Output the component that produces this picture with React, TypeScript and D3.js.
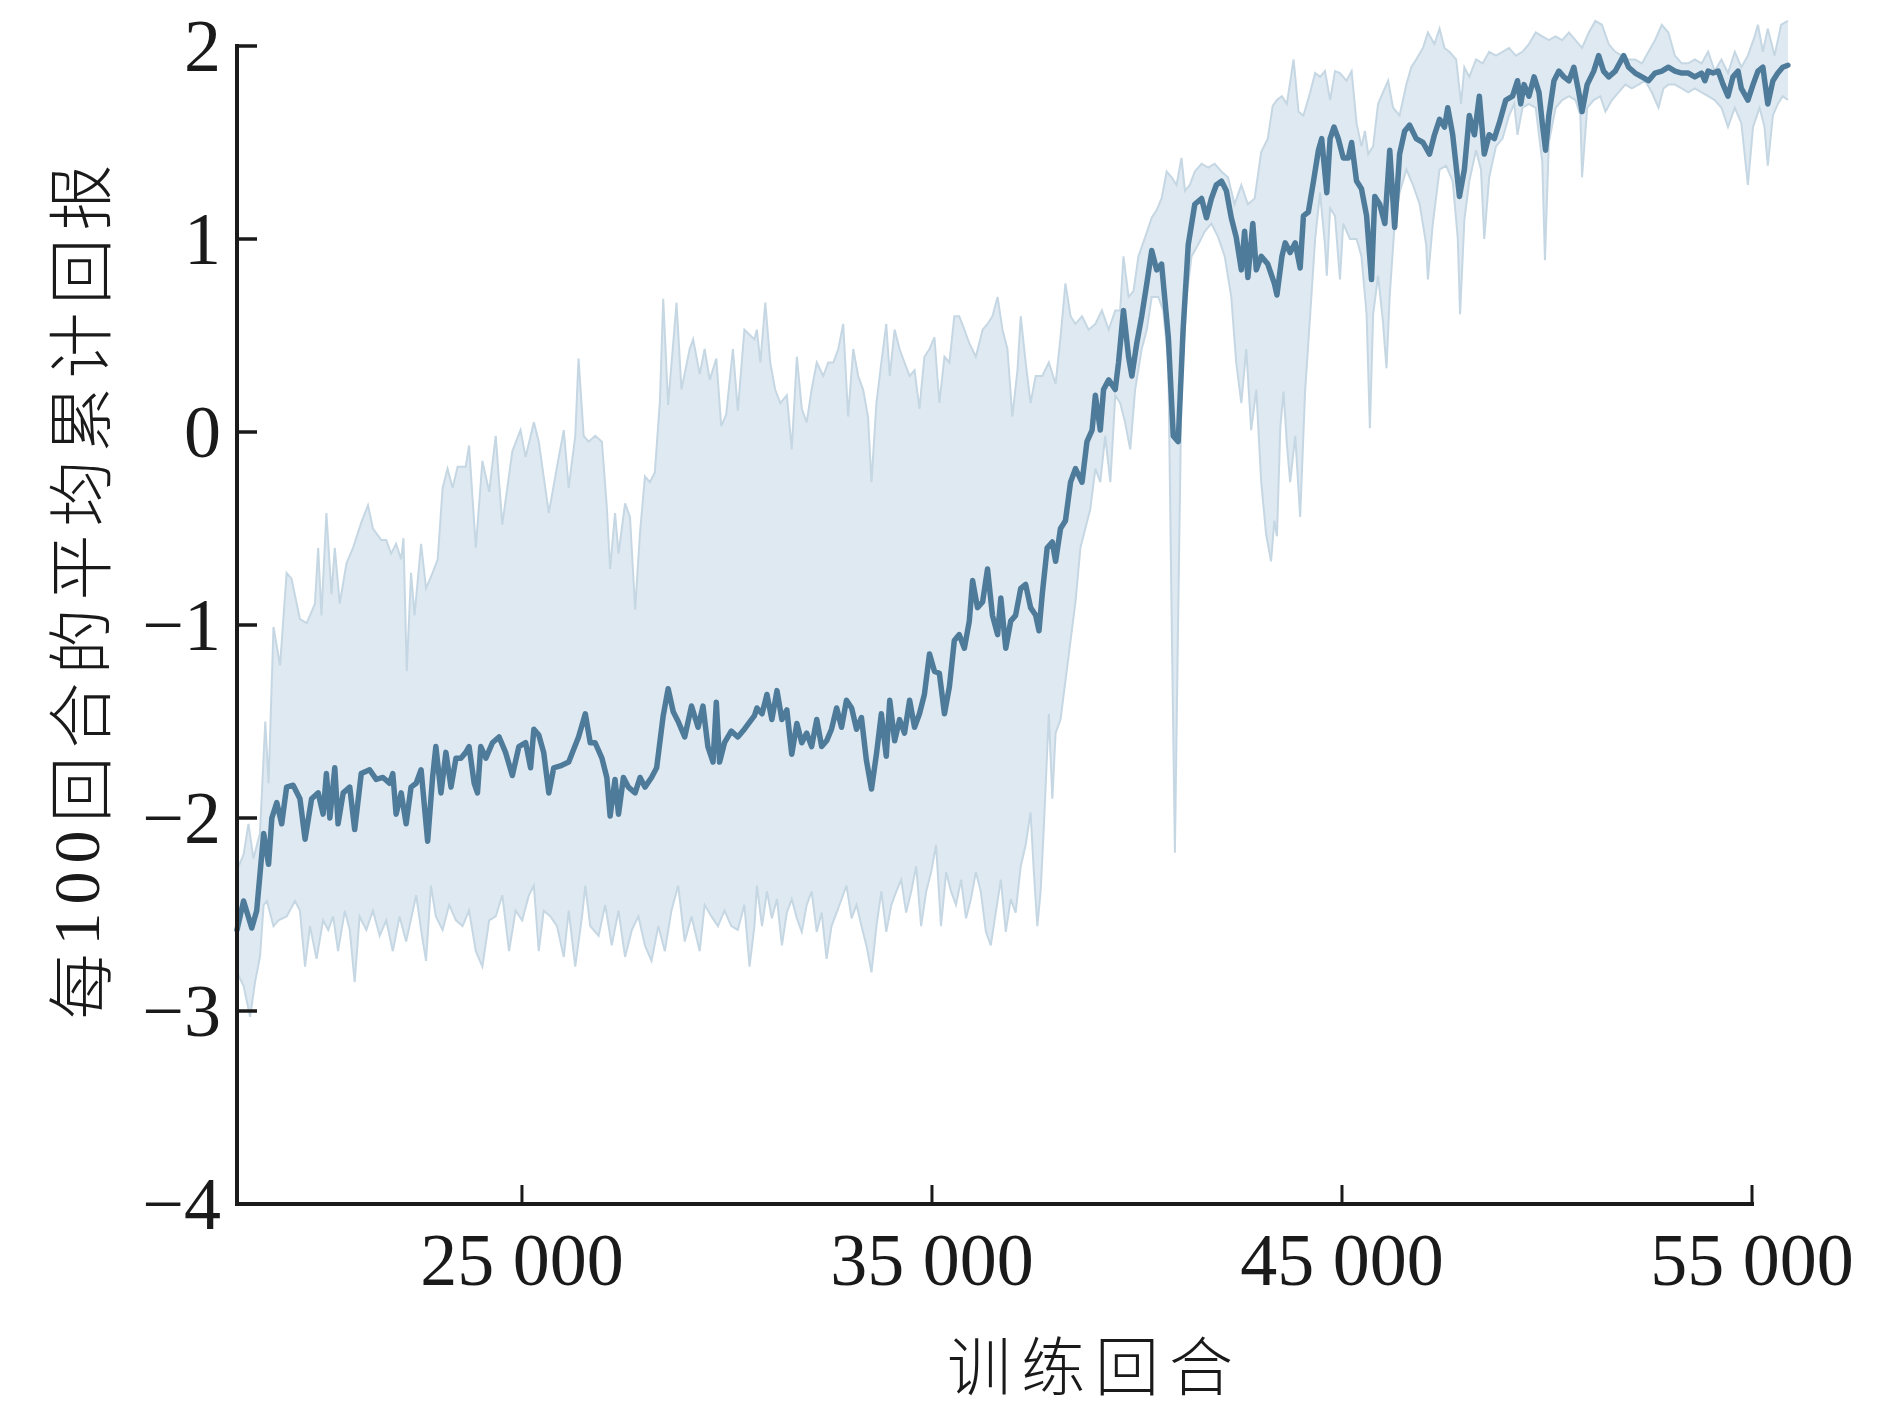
import React from "react";
import * as d3 from "d3";

const X_TICKS = [25000, 35000, 45000, 55000];
const Y_TICKS = [2, 1, 0, -1, -2, -3, -4];
const X_DOMAIN = [18050, 55000];
const Y_DOMAIN = [-4, 2];
const Y_LABEL_PARTS = ["每", "100", "回合的平均累计回报"];
const X_LABEL = "训练回合";

const meanSeries: [number, number][] = [
  [18050,-2.58],[18210,-2.43],[18410,-2.57],[18530,-2.48],[18700,-2.08],[18820,-2.24],[18900,-2.00],[19020,-1.92],[19140,-2.03],[19260,-1.84],[19420,-1.83],[19585,-1.90],[19710,-2.11],[19870,-1.90],[20030,-1.87],[20150,-1.98],[20230,-1.77],[20315,-2.00],[20435,-1.74],[20515,-2.03],[20640,-1.87],[20800,-1.84],[20920,-2.06],[21080,-1.77],[21285,-1.75],[21445,-1.80],[21610,-1.79],[21770,-1.82],[21850,-1.77],[21930,-1.98],[22055,-1.87],[22175,-2.03],[22295,-1.84],[22420,-1.82],[22540,-1.75],[22700,-2.12],[22820,-1.79],[22900,-1.63],[23025,-1.87],[23145,-1.66],[23270,-1.84],[23390,-1.69],[23510,-1.69],[23630,-1.66],[23710,-1.63],[23835,-1.82],[23915,-1.87],[23995,-1.63],[24120,-1.69],[24280,-1.61],[24440,-1.58],[24600,-1.66],[24765,-1.78],[24925,-1.63],[25090,-1.61],[25210,-1.74],[25290,-1.54],[25410,-1.57],[25530,-1.66],[25655,-1.87],[25775,-1.74],[25935,-1.73],[26140,-1.71],[26380,-1.58],[26545,-1.46],[26665,-1.61],[26785,-1.61],[26950,-1.69],[27070,-1.79],[27150,-1.99],[27270,-1.80],[27355,-1.98],[27475,-1.79],[27595,-1.84],[27760,-1.87],[27880,-1.79],[28000,-1.84],[28160,-1.79],[28285,-1.74],[28445,-1.47],[28565,-1.33],[28690,-1.45],[28810,-1.50],[28970,-1.58],[29135,-1.42],[29295,-1.53],[29415,-1.42],[29535,-1.63],[29660,-1.71],[29740,-1.40],[29820,-1.71],[29940,-1.61],[30105,-1.55],[30265,-1.58],[30425,-1.54],[30670,-1.47],
  [30730,-1.43],[30855,-1.46],[30975,-1.36],[31095,-1.49],[31220,-1.34],[31340,-1.49],[31460,-1.44],[31580,-1.67],[31705,-1.51],[31825,-1.61],[31945,-1.56],[32065,-1.63],[32190,-1.49],[32310,-1.63],[32430,-1.60],[32550,-1.54],[32675,-1.43],[32795,-1.53],[32915,-1.39],[33040,-1.43],[33160,-1.54],[33280,-1.48],[33400,-1.70],[33525,-1.85],[33645,-1.67],[33765,-1.46],[33885,-1.68],[33970,-1.39],[34090,-1.60],[34210,-1.49],[34330,-1.56],[34455,-1.39],[34575,-1.53],[34695,-1.46],[34815,-1.36],[34940,-1.15],[35060,-1.24],[35180,-1.25],[35305,-1.46],[35425,-1.32],[35545,-1.08],[35665,-1.05],[35790,-1.12],[35910,-0.98],[35990,-0.77],[36110,-0.91],[36235,-0.88],[36355,-0.71],[36475,-0.95],[36600,-1.05],[36680,-0.86],[36800,-1.12],[36920,-0.98],[37040,-0.95],[37165,-0.81],[37285,-0.79],[37405,-0.91],[37530,-0.95],[37610,-1.03],[37690,-0.84],[37810,-0.60],[37935,-0.57],[38015,-0.67],[38135,-0.50],[38255,-0.46],[38380,-0.26],[38500,-0.19],[38660,-0.26],[38780,-0.05],[38905,0.01],[38985,0.19],[39105,0.01],[39185,0.22],[39310,0.27],[39470,0.22],[39550,0.36],[39670,0.63],[39795,0.39],[39875,0.29],[39995,0.46],[40115,0.60],[40240,0.77],[40360,0.94],[40480,0.84],[40600,0.87],[40765,0.49],[40885,-0.02],[41005,-0.05],[41125,0.53],[41250,0.97],[41410,1.18],[41575,1.21],[41695,1.11],[41815,1.21],[41935,1.28],[42060,1.30],[42180,1.25],[42300,1.11],[42420,1.01],[42545,0.84],[42625,1.04],[42705,0.80],[42825,1.08],[42910,0.84],[43030,0.91],[43190,0.87],[43350,0.77],
  [43414,0.71],[43535,0.91],[43615,0.98],[43735,0.93],[43860,0.98],[43980,0.85],[44060,1.12],[44180,1.14],[44305,1.30],[44425,1.46],[44505,1.52],[44630,1.24],[44710,1.52],[44805,1.58],[44910,1.52],[45030,1.42],[45155,1.42],[45235,1.50],[45355,1.30],[45475,1.26],[45600,1.12],[45720,0.79],[45800,1.22],[45920,1.18],[46045,1.08],[46165,1.46],[46285,1.06],[46405,1.44],[46530,1.56],[46650,1.59],[46810,1.52],[46975,1.50],[47135,1.44],[47255,1.54],[47380,1.62],[47500,1.58],[47580,1.68],[47700,1.54],[47865,1.22],[47985,1.36],[48105,1.64],[48230,1.54],[48350,1.74],[48470,1.44],[48590,1.54],[48715,1.52],[48835,1.60],[48995,1.72],[49160,1.74],[49280,1.82],[49360,1.70],[49440,1.80],[49560,1.74],[49685,1.84],[49805,1.76],[49885,1.60],[49965,1.46],[50045,1.64],[50170,1.82],[50290,1.87],[50410,1.84],[50535,1.82],[50655,1.89],[50775,1.76],[50855,1.66],[50980,1.80],[51140,1.87],[51260,1.95],[51380,1.87],[51505,1.84],[51665,1.87],[51870,1.95],[51990,1.89],[52150,1.86],[52315,1.84],[52475,1.82],[52635,1.86],[52800,1.87],[52960,1.89],[53120,1.87],[53285,1.86],[53445,1.86],[53605,1.84],[53770,1.86],[53850,1.82],[53930,1.87],[54050,1.86],[54175,1.87],[54295,1.80],[54415,1.74],[54535,1.84],[54660,1.87],[54740,1.78],[54900,1.72],[55025,1.80],[55145,1.87],[55265,1.89],[55385,1.70],[55510,1.82],[55630,1.86],[55750,1.89],[55875,1.90]
];

const upperSeries: [number, number][] = [
  [18050,-2.27],[18210,-2.19],[18330,-2.03],[18450,-2.21],[18610,-2.08],[18740,-1.50],[18820,-1.82],[18940,-1.01],[19100,-1.21],[19260,-0.73],[19380,-0.76],[19585,-0.97],[19750,-0.99],[19950,-0.89],[20030,-0.60],[20110,-0.95],[20230,-0.42],[20355,-0.84],[20435,-0.60],[20555,-0.89],[20720,-0.68],[20880,-0.60],[21080,-0.47],[21245,-0.38],[21365,-0.50],[21570,-0.56],[21690,-0.56],[21810,-0.63],[21930,-0.58],[22055,-0.66],[22110,-0.55],[22190,-1.24],[22295,-0.73],[22380,-0.95],[22540,-0.58],[22660,-0.81],[22820,-0.73],[22945,-0.66],[23065,-0.29],[23185,-0.19],[23310,-0.29],[23430,-0.18],[23630,-0.18],[23710,-0.07],[23875,-0.60],[24035,-0.15],[24200,-0.31],[24360,-0.02],[24520,-0.48],[24765,-0.10],[24965,0.01],[25090,-0.13],[25290,0.05],[25410,-0.05],[25655,-0.42],[25855,-0.18],[26020,0.01],[26140,-0.29],[26300,-0.02],[26380,0.38],[26505,-0.02],[26625,-0.05],[26785,-0.02],[26950,-0.05],[27070,-0.39],[27150,-0.71],[27270,-0.42],[27355,-0.63],[27515,-0.37],[27635,-0.44],[27760,-0.92],[27880,-0.52],[28000,-0.23],[28120,-0.26],[28240,-0.21],[28365,0.16],[28445,0.69],[28565,0.14],[28770,0.67],[28890,0.22],[29090,0.43],[29175,0.48],[29335,0.30],[29455,0.43],[29580,0.27],[29740,0.38],[29860,0.03],[29980,0.09],[30145,0.43],[30265,0.11],[30425,0.53],[30670,0.48],
  [30730,0.53],[30815,0.36],[30935,0.67],[31055,0.36],[31175,0.22],[31300,0.15],[31460,0.19],[31580,-0.09],[31705,0.39],[31825,0.12],[31945,0.05],[32065,0.22],[32190,0.36],[32350,0.29],[32470,0.36],[32595,0.36],[32715,0.43],[32835,0.56],[32955,0.08],[33080,0.43],[33200,0.29],[33320,0.22],[33440,0.08],[33525,-0.26],[33645,0.15],[33765,0.36],[33885,0.56],[33970,0.29],[34090,0.53],[34210,0.43],[34330,0.36],[34455,0.29],[34575,0.32],[34695,0.12],[34815,0.39],[34940,0.43],[35060,0.49],[35180,0.15],[35305,0.39],[35425,0.36],[35545,0.60],[35665,0.60],[35790,0.53],[35910,0.46],[36070,0.39],[36235,0.53],[36355,0.56],[36475,0.60],[36600,0.70],[36720,0.53],[36840,0.43],[36960,0.08],[37085,0.32],[37165,0.60],[37285,0.36],[37405,0.15],[37530,0.29],[37690,0.29],[37850,0.36],[38015,0.25],[38135,0.49],[38255,0.77],[38380,0.60],[38500,0.56],[38660,0.60],[38820,0.53],[38985,0.56],[39145,0.63],[39310,0.53],[39470,0.63],[39590,0.63],[39670,0.91],[39795,0.70],[39915,0.73],[40035,0.91],[40200,1.01],[40360,1.11],[40480,1.15],[40600,1.21],[40725,1.35],[40845,1.32],[40965,1.28],[41085,1.42],[41170,1.25],[41290,1.28],[41410,1.35],[41575,1.39],[41735,1.37],[41895,1.39],[42060,1.35],[42220,1.32],[42380,1.18],[42545,1.28],[42705,1.18],[42870,1.21],[43030,1.45],[43190,1.52],[43310,1.69],
  [43414,1.72],[43535,1.74],[43655,1.70],[43820,1.93],[43940,1.66],[44060,1.64],[44225,1.76],[44345,1.86],[44465,1.84],[44585,1.87],[44710,1.72],[44830,1.87],[44950,1.86],[45110,1.82],[45235,1.87],[45355,1.60],[45475,1.48],[45560,1.56],[45640,1.44],[45760,1.48],[45880,1.70],[46000,1.76],[46125,1.82],[46245,1.68],[46405,1.64],[46570,1.80],[46690,1.89],[46810,1.93],[46975,1.99],[47095,2.07],[47255,2.01],[47380,2.09],[47500,1.99],[47620,1.97],[47785,1.93],[47905,1.70],[47985,1.89],[48105,1.84],[48270,1.93],[48430,1.91],[48590,1.97],[48755,1.95],[48915,1.97],[49075,1.99],[49240,1.95],[49400,1.97],[49560,2.01],[49725,2.07],[49885,2.05],[50045,2.03],[50210,2.05],[50370,2.03],[50535,2.07],[50695,2.03],[50855,1.99],[51020,2.07],[51180,2.13],[51340,2.11],[51505,2.01],[51665,1.97],[51830,1.95],[51990,1.93],[52150,1.93],[52315,1.91],[52475,1.97],[52635,2.03],[52800,2.11],[52960,2.07],[53120,1.95],[53285,1.91],[53445,1.91],[53605,1.93],[53770,1.91],[53930,1.97],[54090,1.87],[54255,1.93],[54415,1.86],[54580,1.97],[54740,1.89],[54900,1.95],[55065,2.05],[55145,2.11],[55265,1.97],[55385,2.09],[55550,1.95],[55710,2.11],[55875,2.13]
];

const lowerSeries: [number, number][] = [
  [18050,-2.80],[18210,-2.87],[18370,-3.03],[18490,-2.85],[18610,-2.72],[18700,-2.45],[18780,-2.43],[18940,-2.56],[19060,-2.53],[19260,-2.51],[19465,-2.43],[19585,-2.48],[19710,-2.77],[19830,-2.56],[19990,-2.73],[20150,-2.53],[20275,-2.58],[20395,-2.51],[20515,-2.69],[20680,-2.48],[20800,-2.58],[20920,-2.85],[21040,-2.51],[21205,-2.58],[21365,-2.48],[21530,-2.61],[21690,-2.53],[21850,-2.69],[22015,-2.51],[22175,-2.64],[22420,-2.40],[22540,-2.58],[22660,-2.74],[22780,-2.35],[22900,-2.51],[23065,-2.58],[23225,-2.45],[23390,-2.53],[23550,-2.56],[23710,-2.48],[23875,-2.69],[24035,-2.77],[24200,-2.53],[24360,-2.51],[24520,-2.40],[24685,-2.69],[24845,-2.48],[25005,-2.53],[25170,-2.40],[25290,-2.35],[25410,-2.69],[25530,-2.48],[25695,-2.51],[25855,-2.56],[26020,-2.72],[26140,-2.48],[26300,-2.77],[26465,-2.51],[26545,-2.35],[26665,-2.56],[26870,-2.61],[27030,-2.45],[27190,-2.66],[27355,-2.48],[27515,-2.72],[27680,-2.58],[27840,-2.51],[28000,-2.66],[28160,-2.74],[28325,-2.56],[28485,-2.69],[28645,-2.48],[28810,-2.35],[28970,-2.64],[29135,-2.51],[29335,-2.69],[29455,-2.45],[29620,-2.51],[29780,-2.56],[29940,-2.48],[30105,-2.56],[30265,-2.58],[30425,-2.45],[30550,-2.77],[30670,-2.56],
  [30730,-2.35],[30855,-2.56],[30975,-2.38],[31095,-2.52],[31220,-2.42],[31340,-2.66],[31460,-2.49],[31580,-2.42],[31705,-2.52],[31825,-2.59],[31945,-2.45],[32065,-2.38],[32190,-2.59],[32310,-2.49],[32430,-2.73],[32550,-2.56],[32675,-2.49],[32795,-2.42],[32915,-2.35],[33040,-2.52],[33160,-2.45],[33280,-2.56],[33400,-2.66],[33525,-2.80],[33645,-2.56],[33765,-2.38],[33885,-2.59],[34010,-2.45],[34130,-2.38],[34250,-2.32],[34370,-2.49],[34495,-2.38],[34615,-2.25],[34735,-2.56],[34860,-2.38],[34980,-2.28],[35100,-2.14],[35220,-2.56],[35345,-2.28],[35465,-2.38],[35585,-2.45],[35710,-2.32],[35830,-2.52],[35950,-2.42],[36070,-2.28],[36190,-2.38],[36315,-2.59],[36435,-2.66],[36555,-2.49],[36680,-2.32],[36800,-2.59],[36920,-2.42],[37040,-2.49],[37165,-2.25],[37285,-2.14],[37405,-1.97],[37485,-2.28],[37570,-2.56],[37650,-2.38],[37730,-2.04],[37850,-1.46],[37935,-1.90],[38015,-1.56],[38135,-1.49],[38255,-1.29],[38380,-1.08],[38500,-0.88],[38620,-0.60],[38740,-0.50],[38860,-0.40],[38985,-0.19],[39105,-0.26],[39225,-0.02],[39350,-0.26],[39470,0.19],[39590,0.15],[39710,0.05],[39835,-0.09],[39955,0.22],[40115,0.43],[40240,0.53],[40360,0.70],[40520,0.70],[40640,0.63],[40765,0.36],[40845,-0.95],[40925,-2.18],[41005,-0.95],[41085,0.22],[41210,0.70],[41330,0.91],[41490,0.97],[41655,1.04],[41815,1.08],[41980,1.01],[42140,0.91],[42300,0.70],[42420,0.36],[42545,0.15],[42665,0.43],[42785,0.01],[42910,0.22],[43030,-0.26],[43150,-0.53],[43270,-0.67],[43350,-0.46],
  [43414,-0.54],[43495,0.02],[43575,0.21],[43655,-0.06],[43735,-0.26],[43860,-0.02],[43980,-0.44],[44100,0.21],[44225,0.61],[44345,1.00],[44465,1.24],[44585,0.97],[44630,0.81],[44710,1.16],[44830,1.12],[44950,0.79],[45030,1.08],[45195,1.00],[45355,1.00],[45475,0.91],[45600,0.61],[45680,0.02],[45760,0.61],[45880,0.81],[46000,0.57],[46085,0.33],[46165,0.71],[46285,1.08],[46405,1.24],[46570,1.36],[46730,1.28],[46895,1.18],[47055,0.97],[47095,0.79],[47215,1.08],[47380,1.36],[47540,1.38],[47700,1.30],[47825,1.00],[47880,0.61],[47985,1.10],[48105,1.30],[48270,1.46],[48390,1.36],[48470,1.00],[48590,1.32],[48755,1.48],[48915,1.52],[49075,1.64],[49200,1.70],[49280,1.54],[49400,1.68],[49560,1.70],[49725,1.68],[49885,1.40],[49950,0.89],[50045,1.50],[50210,1.68],[50370,1.72],[50535,1.74],[50695,1.72],[50815,1.64],[50855,1.32],[50980,1.68],[51140,1.72],[51300,1.74],[51425,1.66],[51585,1.72],[51745,1.76],[51910,1.80],[52070,1.78],[52230,1.80],[52395,1.82],[52555,1.76],[52720,1.68],[52840,1.78],[52960,1.80],[53120,1.80],[53285,1.78],[53445,1.76],[53605,1.78],[53770,1.76],[53930,1.74],[54090,1.72],[54255,1.68],[54415,1.58],[54580,1.68],[54740,1.60],[54900,1.28],[55025,1.58],[55185,1.68],[55305,1.58],[55385,1.38],[55510,1.64],[55630,1.70],[55750,1.74],[55875,1.72]
];

const LATIN = "'Liberation Serif', 'Times New Roman', serif";
const CJK = "'Noto Sans CJK SC', 'Noto Sans CJK JP', sans-serif";

export default function App() {
  const W = 1890, H = 1409;
  const x = d3.scaleLinear().domain(X_DOMAIN).range([237, 1752]);
  const y = d3.scaleLinear().domain(Y_DOMAIN).range([1204, 46]);
  const line = d3.line<[number, number]>().x(d => x(d[0])).y(d => y(d[1]));
  const bandPath = (line(upperSeries.concat(lowerSeries.slice().reverse())) || "") + "Z";
  const fmt = d3.formatLocale({ decimal: ".", thousands: " ", grouping: [3], currency: ["", ""], minus: "\u2212" }).format(",");
  const yFmt = d3.format("d");
  const x0 = x(X_DOMAIN[0]);
  const x1 = x(X_DOMAIN[1]);
  const yTop = y(Y_DOMAIN[1]);
  const yBot = y(Y_DOMAIN[0]);

  return (
    <svg width={W} height={H} style={{ position: "absolute", left: 0, top: 0, background: "#fff" }}>
      <path d={bandPath} fill="#dfe9f1" stroke="none" />
      <path d={line(upperSeries) || ""} fill="none" stroke="#c6d7e4" strokeWidth={2} />
      <path d={line(lowerSeries) || ""} fill="none" stroke="#c6d7e4" strokeWidth={2} />
      <path d={line(meanSeries) || ""} fill="none" stroke="#4f7b9b" strokeWidth={5.5} strokeLinejoin="round" strokeLinecap="round" />

      <line x1={x0} y1={yTop} x2={x0} y2={yBot} stroke="#1a1a1a" strokeWidth={4} strokeLinecap="square" />
      <line x1={x0} y1={yBot} x2={x1} y2={yBot} stroke="#1a1a1a" strokeWidth={4} strokeLinecap="square" />
      {Y_TICKS.map(t => (
        <g key={"y" + t}>
          <line x1={x0} x2={x0 + 20} y1={y(t)} y2={y(t)} stroke="#1a1a1a" strokeWidth={3.5} />
          <text x={221} y={y(t)} dy="0.34em" textAnchor="end" fontFamily={LATIN} fontSize={74} fill="#1a1a1a">
            {yFmt(t).replace("-", "\u2212")}
          </text>
        </g>
      ))}
      {X_TICKS.map(t => (
        <g key={"x" + t}>
          <line x1={x(t)} x2={x(t)} y1={yBot} y2={yBot - 19} stroke="#1a1a1a" strokeWidth={3} />
          <text x={x(t)} y={1285} textAnchor="middle" fontFamily={LATIN} fontSize={74} fill="#1a1a1a">
            {fmt(t)}
          </text>
        </g>
      ))}
      <text x={947} y={1362} dominantBaseline="central" fontFamily={CJK} fontWeight={300} fontSize={64} letterSpacing={10} fill="#1a1a1a">
        {X_LABEL}
      </text>
      <text transform="translate(76,588) rotate(-90)" textAnchor="middle" dominantBaseline="central" fontSize={66} letterSpacing={8} fill="#1a1a1a">
        <tspan fontFamily={CJK} fontWeight={300}>{Y_LABEL_PARTS[0]}</tspan>
        <tspan fontFamily={LATIN}>{Y_LABEL_PARTS[1]}</tspan>
        <tspan fontFamily={CJK} fontWeight={300}>{Y_LABEL_PARTS[2]}</tspan>
      </text>
    </svg>
  );
}
